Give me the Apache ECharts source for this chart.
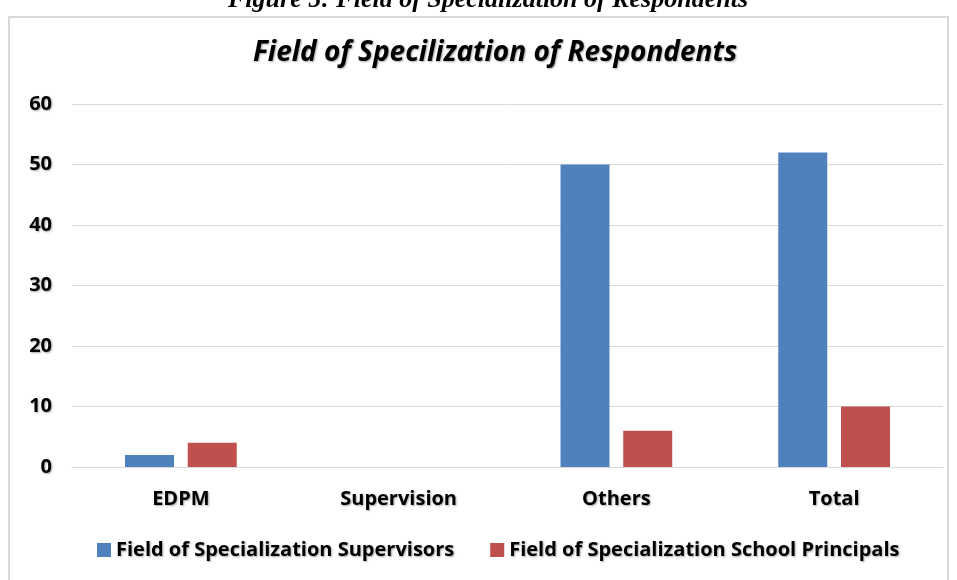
<!DOCTYPE html>
<html>
<head>
<meta charset="utf-8">
<script src="https://cdn.jsdelivr.net/npm/echarts@6/dist/echarts.min.js"></script>
<style>
  html, body { margin: 0; padding: 0; background: #fff; }
  #chart { width: 957px; height: 580px; }
</style>
</head>
<body>
<div id="chart"></div>
<script>
const categories = ['EDPM', 'Supervision', 'Others', 'Total']
const supervisors = [2, 0, 50, 52]
const principals = [4, 0, 6, 10]
const seriesNames = ['Field of Specialization Supervisors', 'Field of Specialization School Principals']

const shadow = {
  textShadowColor: 'rgba(0,0,0,0.35)',
  textShadowBlur: 2,
  textShadowOffsetX: 1,
  textShadowOffsetY: 1
}
const labelFont = 'Open Sans'

const chart = echarts.init(document.getElementById('chart'))
const option = {
  animation: false,
  color: ['#4F81BD', '#C0504D'],
  graphic: [
    {
      type: 'rect',
      shape: { x: 9, y: 17, width: 939, height: 580 },
      style: { fill: 'none', stroke: '#d9d9d9', lineWidth: 2 },
      z: -1
    },
    {
      type: 'text',
      left: 228,
      top: -13,
      style: {
        text: 'Figure 5: Field of Specialization of Respondents',
        font: 'italic bold 26px "Liberation Serif", serif',
        fill: '#000'
      }
    }
  ],
  title: {
    text: 'Field of Specilization of Respondents',
    left: 248,
    top: 34,
    textStyle: {
      fontFamily: labelFont,
      fontStyle: 'italic',
      fontWeight: 'bold',
      fontSize: 28,
      color: '#000',
      ...shadow
    }
  },
  legend: {
    bottom: 15,
    left: 92,
    itemWidth: 14,
    itemHeight: 14,
    itemGap: 36,
    icon: 'rect',
    data: seriesNames,
    textStyle: {
      fontFamily: labelFont,
      fontWeight: 'bold',
      fontSize: 20,
      color: '#000',
      ...shadow
    }
  },
  grid: { left: 72, right: 14, top: 104, bottom: 113 },
  xAxis: {
    type: 'category',
    data: categories,
    axisLine: { show: true, lineStyle: { color: '#d9d9d9' } },
    axisTick: { show: false },
    axisLabel: {
      margin: 22,
      fontFamily: labelFont,
      fontWeight: 'bold',
      fontSize: 20,
      color: '#000',
      ...shadow
    }
  },
  yAxis: {
    type: 'value',
    min: 0,
    max: 60,
    interval: 10,
    axisLine: { show: false },
    axisTick: { show: false },
    splitLine: { lineStyle: { color: '#d9d9d9', width: 1 } },
    axisLabel: {
      margin: 20,
      fontFamily: labelFont,
      fontWeight: 'bold',
      fontSize: 20,
      color: '#000',
      ...shadow
    }
  },
  series: [
    {
      name: seriesNames[0],
      type: 'bar',
      data: supervisors,
      barWidth: 49,
      barGap: '28%'
    },
    {
      name: seriesNames[1],
      type: 'bar',
      data: principals,
      barWidth: 49
    }
  ]
}
chart.setOption(option)
</script>
</body>
</html>
